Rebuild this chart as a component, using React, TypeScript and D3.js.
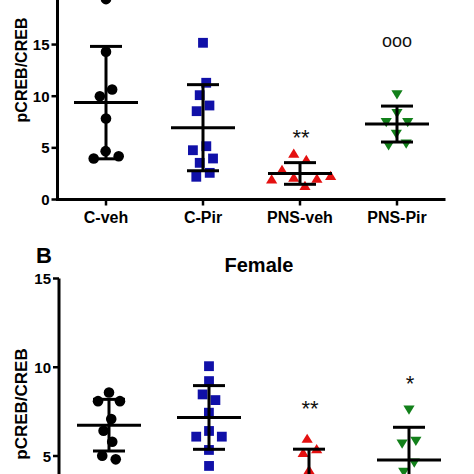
import React from "react";
import * as d3 from "d3";

const categories = ["C-veh", "C-Pir", "PNS-veh", "PNS-Pir"];

// Male (panel A, top)
const maleCveh = [19.4, 14.3, 10.0, 10.65, 7.84, 4.68, 3.97, 4.19];
const maleCpir = [15.17, 11.3, 10.1, 9.1, 8.55, 5.16, 4.77, 3.97, 3.55, 2.58, 2.2];
const malePNSveh = [4.35, 3.75, 2.78, 2.2, 2.04, 1.94, 1.87, 1.23];
const malePNSpir = [10.26, 8.45, 7.58, 7.58, 6.45, 5.49, 5.32];
const maleSig = ["", "", "**", "ooo"];
const maleSigAt = [0, 0, 5.3, 14.76];
const maleTicks = [0, 5, 10, 15];

// Female (panel B, bottom)
const femCveh = [8.58, 8.09, 8.09, 7.08, 6.42, 5.8, 5.02, 4.81];
const femCpir = [10.06, 9.22, 8.47, 8.15, 7.44, 6.41, 6.09, 6.09, 5.34, 4.44];
const femPNSveh = [5.92, 5.34, 5.13, 4.16, 3.0, 2.4, 1.9, 1.2];
const femPNSpir = [7.66, 5.9, 5.75, 4.68, 4.16, 3.0, 2.25];
const femSig = ["", "", "**", "*"];
const femSigAt = [0, 0, 7.26, 8.67];
const femTicks = [5, 10, 15];

const colors = ["#000000", "#1010a8", "#e41010", "#12801a"];
const shapes = ["circle", "square", "up", "down"];
const FONT = "'Liberation Sans', Arial, sans-serif";

function swarm(values: number[], cx: number, y: (v: number) => number, r: number) {
  const nodes: any[] = values.map((v, i) => ({
    x: cx + (i % 2 === 0 ? -1 : 1) * 0.3 * (i + 1),
    y: y(v),
    fy: y(v),
    v,
  }));
  const sim = d3
    .forceSimulation(nodes)
    .force("x", d3.forceX(cx).strength(0.06))
    .force("collide", d3.forceCollide(r).iterations(3))
    .stop();
  for (let i = 0; i < 400; i++) sim.tick();
  return nodes;
}

function Marker({ shape, x, y, color }: any) {
  if (shape === "circle") return <circle cx={x} cy={y} r={5.3} fill={color} />;
  if (shape === "square")
    return <rect x={x - 4.9} y={y - 4.9} width={9.8} height={9.8} fill={color} />;
  if (shape === "up")
    return <path d={`M${x},${y - 6}L${x + 5.6},${y + 3.2}L${x - 5.6},${y + 3.2}Z`} fill={color} />;
  return <path d={`M${x},${y + 6}L${x + 5.6},${y - 3.2}L${x - 5.6},${y - 3.2}Z`} fill={color} />;
}

function Panel({ groups, x, y, yTop, ticks, sig, sigAt, sigSize, showXAxis }: any) {
  const [x0, x1] = x.range();
  const yb = y.range()[0];
  return (
    <g>
      {groups.map((vals: number[], gi: number) => {
        const cx = x(categories[gi]) + x.bandwidth() / 2;
        const nodes = swarm(vals, cx, y, 7);
        const m = d3.mean(vals) as number;
        const sd = d3.deviation(vals) as number;
        return (
          <g key={gi}>
            {nodes.map((n, i) => (
              <Marker key={i} shape={shapes[gi]} x={n.x} y={n.y} color={colors[gi]} />
            ))}
            <g stroke="#000" strokeWidth={3}>
              <line x1={cx} x2={cx} y1={y(m + sd)} y2={y(m - sd)} />
              <line x1={cx - 16} x2={cx + 16} y1={y(m + sd)} y2={y(m + sd)} />
              <line x1={cx - 16} x2={cx + 16} y1={y(m - sd)} y2={y(m - sd)} />
              <line x1={cx - 32} x2={cx + 32} y1={y(m)} y2={y(m)} />
            </g>
            {sig[gi] ? (
              <text
                x={cx + (sig[gi] === "ooo" ? 0 : 1)}
                y={y(sigAt[gi])}
                textAnchor="middle"
                fontFamily={FONT}
                fontSize={sig[gi] === "ooo" ? 18 : sigSize}
                fill="#111"
              >
                {sig[gi]}
              </text>
            ) : null}
          </g>
        );
      })}
      {/* y axis */}
      <line x1={x0} x2={x0} y1={yb + 1.5} y2={y(yTop)} stroke="#000" strokeWidth={3} />
      {ticks.map((t: number) => (
        <g key={t}>
          <line x1={x0 - 6} x2={x0} y1={y(t)} y2={y(t)} stroke="#000" strokeWidth={2.5} />
          <text
            x={x0 - 8}
            y={y(t) + 5.5}
            textAnchor="end"
            fontFamily={FONT}
            fontWeight="bold"
            fontSize={15}
            fill="#000"
          >
            {t}
          </text>
        </g>
      ))}
      {showXAxis ? (
        <g>
          <line x1={x0 - 1.5} x2={x1} y1={yb} y2={yb} stroke="#000" strokeWidth={3} />
          {categories.map((c) => {
            const cx = x(c) + x.bandwidth() / 2;
            return (
              <g key={c}>
                <line x1={cx} x2={cx} y1={yb} y2={yb + 6} stroke="#000" strokeWidth={2.5} />
                <text
                  x={cx}
                  y={yb + 23}
                  textAnchor="middle"
                  fontFamily={FONT}
                  fontWeight="bold"
                  fontSize={16}
                  fill="#000"
                >
                  {c}
                </text>
              </g>
            );
          })}
        </g>
      ) : null}
    </g>
  );
}

export default function App() {
  const yM = d3.scaleLinear().domain([0, 25]).range([199.5, 199.5 - 25 * 10.33]);
  const xM = d3.scaleBand().domain(categories).range([57.5, 445.5]);
  const yF = d3.scaleLinear().domain([0, 15]).range([456 + 5 * 17.75, 456 - 10 * 17.75]);
  const xF = d3.scaleBand().domain(categories).range([59, 459]);

  return (
    <svg
      width={474}
      height={474}
      style={{ position: "absolute", left: 0, top: 0, background: "#fff" }}
    >
      <rect width={474} height={474} fill="#fff" />
      <Panel
        groups={[maleCveh, maleCpir, malePNSveh, malePNSpir]}
        x={xM}
        y={yM}
        yTop={25}
        ticks={maleTicks}
        sig={maleSig}
        sigAt={maleSigAt}
        sigSize={22}
        showXAxis={true}
      />
      <text
        transform={`translate(27,70) rotate(-90)`}
        textAnchor="middle"
        fontFamily={FONT}
        fontWeight="bold"
        fontSize={16}
        fill="#000"
      >
        pCREB/CREB
      </text>

      <Panel
        groups={[femCveh, femCpir, femPNSveh, femPNSpir]}
        x={xF}
        y={yF}
        yTop={15}
        ticks={femTicks}
        sig={femSig}
        sigAt={femSigAt}
        sigSize={22}
        showXAxis={false}
      />
      <text
        transform={`translate(27,404) rotate(-90)`}
        textAnchor="middle"
        fontFamily={FONT}
        fontWeight="bold"
        fontSize={17}
        fill="#000"
      >
        pCREB/CREB
      </text>
      <text x={36} y={263} fontFamily={FONT} fontWeight="bold" fontSize={22} fill="#000">
        B
      </text>
      <text
        x={259}
        y={272}
        textAnchor="middle"
        fontFamily={FONT}
        fontWeight="bold"
        fontSize={20}
        fill="#000"
      >
        Female
      </text>
    </svg>
  );
}
